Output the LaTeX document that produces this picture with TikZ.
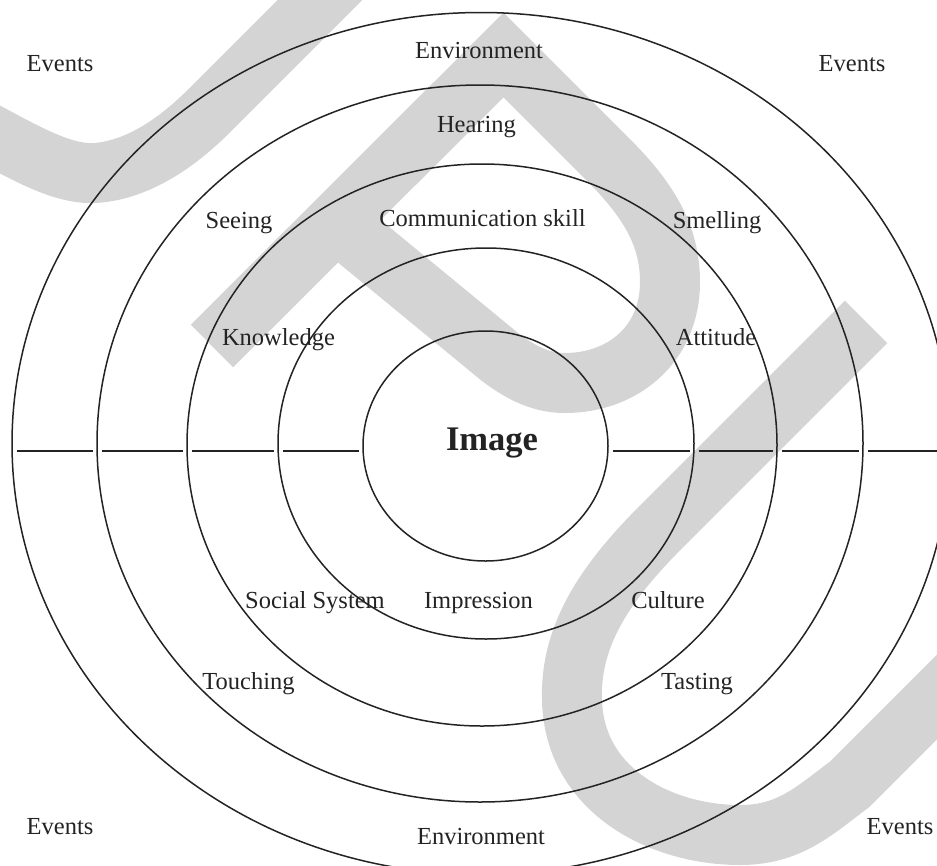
\documentclass[tikz,border=0pt]{standalone}
\usepackage{fontspec}
\setmainfont{Liberation Serif}
\usetikzlibrary{shapes.geometric}
\definecolor{ink}{RGB}{35,35,35}
\definecolor{wash}{RGB}{212,212,212}
\begin{document}
\begin{tikzpicture}[x=1pt,y=-1pt,
  ring/.style={draw=ink, line width=1.5pt, ellipse, inner sep=0pt, outer sep=0pt},
  spoke/.style={draw=ink, line width=1.5pt, shorten <=4.5pt, shorten >=4.5pt},
  lbl/.style={text=ink, font=\fontsize{24.5}{28}\selectfont, anchor=base, inner sep=0pt},
  core/.style={text=ink, font=\fontsize{34.5}{40}\selectfont\bfseries, anchor=base, inner sep=0pt},
  wm/.style={draw=wash, line width=60pt, line cap=butt, line join=miter}
]
\useasboundingbox (0,0) rectangle (937,865);
\clip (0,0) rectangle (937,865);

% light background strokes
\draw[wm] (-40,118) .. controls (20,150) and (60,175) .. (95,173)
  .. controls (140,170) and (180,140) .. (210,110) -- (345,-25);
\draw[wm] (212,346) -- (503.5,55) -- (610,161.5)
  .. controls (648,200) and (670,235) .. (670,282)
  .. controls (670,345) and (622,383) .. (565,383)
  .. controls (540,383) and (520,372) .. (500,357) -- (336,222);
\draw[wm] (866,322) -- (660,528) .. controls (600,588) and (570,640) .. (572,700)
  .. controls (574,790) and (660,835) .. (740,835)
  .. controls (790,835) and (815,810) .. (850,784) -- (980,654);

% concentric rings
\node[ring, minimum width=938pt, minimum height=862pt] (r0) at (481,443.5) {};
\node[ring, minimum width=766pt, minimum height=717pt] (r1) at (480,443.5) {};
\node[ring, minimum width=590pt, minimum height=562pt] (r2) at (482,445) {};
\node[ring, minimum width=416pt, minimum height=391pt] (r3) at (486,443.5) {};
\node[ring, minimum width=245pt, minimum height=230pt] (r4) at (485.5,446) {};

% horizontal axis split between the rings
\coordinate (axis) at (0,451);
\draw[spoke] (r0.west |- axis) -- (r1.west |- axis);
\draw[spoke] (r1.west |- axis) -- (r2.west |- axis);
\draw[spoke] (r2.west |- axis) -- (r3.west |- axis);
\draw[spoke] (r3.west |- axis) -- (r4.west |- axis);
\draw[spoke] (r4.east |- axis) -- (r3.east |- axis);
\draw[spoke] (r3.east |- axis) -- (r2.east |- axis);
\draw[spoke] (r2.east |- axis) -- (r1.east |- axis);
\draw[spoke] (r1.east |- axis) -- (r0.east |- axis);

% labels
\node[lbl] (ev1) at (60,71) {Events};
\node[lbl] (ev2) at (852,71) {Events};
\node[lbl] (ev3) at (60,834.5) {Events};
\node[lbl] (ev4) at (900,834.5) {Events};
\node[lbl] (env1) at (479,58) {Environment};
\node[lbl] (env2) at (481,844.5) {Environment};
\node[lbl] (hear) at (476.5,132) {Hearing};
\node[lbl] (see) at (239,228) {Seeing};
\node[lbl] (comm) at (482.5,226.5) {Communication skill};
\node[lbl] (smell) at (717,228) {Smelling};
\node[lbl] (know) at (278.5,345) {Knowledge};
\node[lbl] (att) at (716,345) {Attitude};
\node[core] (img) at (492,450) {Image};
\node[lbl] (soc) at (315,608) {Social System};
\node[lbl] (imp) at (478.5,608) {Impression};
\node[lbl] (cult) at (668,608) {Culture};
\node[lbl] (touch) at (248.5,689.5) {Touching};
\node[lbl] (taste) at (697,689.5) {Tasting};
\end{tikzpicture}
\end{document}
